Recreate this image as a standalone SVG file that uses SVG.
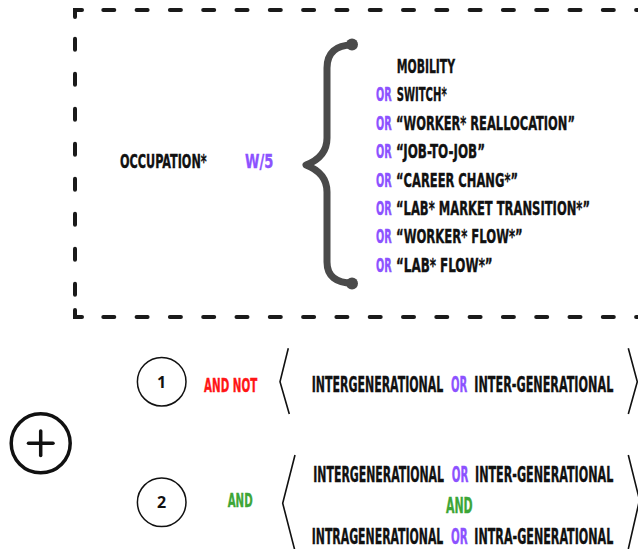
<svg xmlns="http://www.w3.org/2000/svg" width="638" height="549" viewBox="0 0 638 549">
<style>
.t{font-family:"DejaVu Sans Condensed","DejaVu Sans",sans-serif;font-weight:bold;font-size:19px;fill:#111;stroke:#111;stroke-width:0.35}
.r{font-size:20.5px}
.p{fill:#8c52ff;stroke:#8c52ff}
.red{fill:#ff1616;stroke:#ff1616}
.g{fill:#3da637;stroke:#3da637}
.dash{fill:none;stroke:#1a1a1a;stroke-width:4;stroke-linecap:round}
.corner{fill:none;stroke:#1a1a1a;stroke-width:4;stroke-linecap:round;stroke-linejoin:miter}
.ang{fill:none;stroke:#111;stroke-width:1.6;stroke-linejoin:miter}
.num{font-family:"Open Sans","DejaVu Sans",sans-serif;font-weight:bold;font-size:16px;fill:#111;text-anchor:middle}
</style>
<rect width="638" height="549" fill="#fff"/>
<g id="frame">
<polyline class="corner" points="75,17 75,10 82,10"/>
<polyline class="corner" points="75,310 75,317 82,317"/>
<line class="dash" x1="103.3" y1="10" x2="640" y2="10" stroke-dasharray="11 22.3"/>
<line class="dash" x1="103.3" y1="317" x2="640" y2="317" stroke-dasharray="11 22.3"/>
<line class="dash" x1="75" y1="38.7" x2="75" y2="300" stroke-dasharray="11 24"/>
</g>
<g id="occupation">
<text class="t" transform="translate(120,168.3) scale(0.72,1)" textLength="120.4" lengthAdjust="spacingAndGlyphs">OCCUPATION*</text>
</g>
<g id="w5">
<text class="t p" transform="translate(245,168.3) scale(0.72,1)" textLength="39.3" lengthAdjust="spacingAndGlyphs">W/5</text>
</g>
<g id="brace">
<path d="M352,45 C336,45 327,53 327,68 L327,138 C327,152 319,160 306,165 C319,170 327,178 327,192 L327,262 C327,276 336,283 352,283" fill="none" stroke="#4a4a4a" stroke-width="7" stroke-linecap="round" stroke-linejoin="round"/>
<circle cx="352" cy="44.5" r="6" fill="#4a4a4a"/>
<circle cx="352" cy="283.5" r="6" fill="#4a4a4a"/>
</g>
<g id="terms">
<text class="t" transform="translate(396.7,72.7) scale(0.72,1)" textLength="81" lengthAdjust="spacingAndGlyphs">MOBILITY</text>
<text class="t p" transform="translate(376,101) scale(0.72,1)" textLength="21.8" lengthAdjust="spacingAndGlyphs">OR</text>
<text class="t" transform="translate(396.7,101) scale(0.72,1)" textLength="69.4" lengthAdjust="spacingAndGlyphs">SWITCH*</text>
<text class="t p" transform="translate(376,130) scale(0.72,1)" textLength="21.8" lengthAdjust="spacingAndGlyphs">OR</text>
<text class="t" transform="translate(396,130) scale(0.72,1)" textLength="248.6" lengthAdjust="spacingAndGlyphs">“WORKER* REALLOCATION”</text>
<text class="t p" transform="translate(376,158.3) scale(0.72,1)" textLength="21.8" lengthAdjust="spacingAndGlyphs">OR</text>
<text class="t" transform="translate(396,158.3) scale(0.72,1)" textLength="123.6" lengthAdjust="spacingAndGlyphs">“JOB-TO-JOB”</text>
<text class="t p" transform="translate(376,186.7) scale(0.72,1)" textLength="21.8" lengthAdjust="spacingAndGlyphs">OR</text>
<text class="t" transform="translate(396,186.7) scale(0.72,1)" textLength="169.4" lengthAdjust="spacingAndGlyphs">“CAREER CHANG*”</text>
<text class="t p" transform="translate(376,215) scale(0.72,1)" textLength="21.8" lengthAdjust="spacingAndGlyphs">OR</text>
<text class="t" transform="translate(396,215) scale(0.72,1)" textLength="269.4" lengthAdjust="spacingAndGlyphs">“LAB* MARKET TRANSITION*”</text>
<text class="t p" transform="translate(376,243.3) scale(0.72,1)" textLength="21.8" lengthAdjust="spacingAndGlyphs">OR</text>
<text class="t" transform="translate(396,243.3) scale(0.72,1)" textLength="176" lengthAdjust="spacingAndGlyphs">“WORKER* FLOW*”</text>
<text class="t p" transform="translate(376,271.7) scale(0.72,1)" textLength="21.8" lengthAdjust="spacingAndGlyphs">OR</text>
<text class="t" transform="translate(396,271.7) scale(0.72,1)" textLength="134.3" lengthAdjust="spacingAndGlyphs">“LAB* FLOW*”</text>
</g>
<g id="plus">
<circle cx="40.7" cy="443.3" r="29.5" fill="none" stroke="#111" stroke-width="3.5"/>
<line x1="28.5" y1="443.3" x2="53" y2="443.3" stroke="#111" stroke-width="3.5" stroke-linecap="round"/>
<line x1="40.7" y1="431" x2="40.7" y2="455.6" stroke="#111" stroke-width="3.5" stroke-linecap="round"/>
</g>
<g id="circle1">
<circle cx="161.7" cy="381.7" r="24.3" fill="none" stroke="#111" stroke-width="1.5"/>
<text class="num" x="161.7" y="387.7">1</text>
</g>
<g id="circle2">
<circle cx="161.7" cy="502.3" r="24.3" fill="none" stroke="#111" stroke-width="1.5"/>
<text class="num" x="161.7" y="508.2">2</text>
</g>
<g id="andnot">
<text class="t red" transform="translate(204,391.7) scale(0.72,1)" textLength="74" lengthAdjust="spacingAndGlyphs">AND NOT</text>
</g>
<g id="and">
<text class="t g" transform="translate(227.7,506.7) scale(0.72,1)" textLength="34.7" lengthAdjust="spacingAndGlyphs">AND</text>
</g>
<g id="group1">
<polyline class="ang" points="288.3,348.3 280,381.7 289.3,414"/>
<polyline class="ang" points="628.3,348.3 637.3,381.7 628.3,414"/>
<text class="t r" transform="translate(311.7,392.3) scale(0.56,1)" textLength="235" lengthAdjust="spacingAndGlyphs">INTERGENERATIONAL</text>
<text class="t r p" transform="translate(451,392.3) scale(0.56,1)" textLength="29.1" lengthAdjust="spacingAndGlyphs">OR</text>
<text class="t r" transform="translate(474.3,392.3) scale(0.56,1)" textLength="248.2" lengthAdjust="spacingAndGlyphs">INTER-GENERATIONAL</text>
</g>
<g id="group2">
<polyline class="ang" points="295,455 282.7,503.3 295,551"/>
<polyline class="ang" points="628.3,455 639.5,500 628.3,549"/>
<text class="t r" transform="translate(313.3,482.3) scale(0.56,1)" textLength="233.4" lengthAdjust="spacingAndGlyphs">INTERGENERATIONAL</text>
<text class="t r p" transform="translate(451.7,482.3) scale(0.56,1)" textLength="29.6" lengthAdjust="spacingAndGlyphs">OR</text>
<text class="t r" transform="translate(475,482.3) scale(0.56,1)" textLength="247" lengthAdjust="spacingAndGlyphs">INTER-GENERATIONAL</text>
<text class="t r g" transform="translate(446,513.3) scale(0.56,1)" textLength="47.7" lengthAdjust="spacingAndGlyphs">AND</text>
<text class="t r" transform="translate(311.7,544) scale(0.56,1)" textLength="235" lengthAdjust="spacingAndGlyphs">INTRAGENERATIONAL</text>
<text class="t r p" transform="translate(451,544) scale(0.56,1)" textLength="29.8" lengthAdjust="spacingAndGlyphs">OR</text>
<text class="t r" transform="translate(474.3,544) scale(0.56,1)" textLength="248.2" lengthAdjust="spacingAndGlyphs">INTRA-GENERATIONAL</text>
</g>
</svg>
